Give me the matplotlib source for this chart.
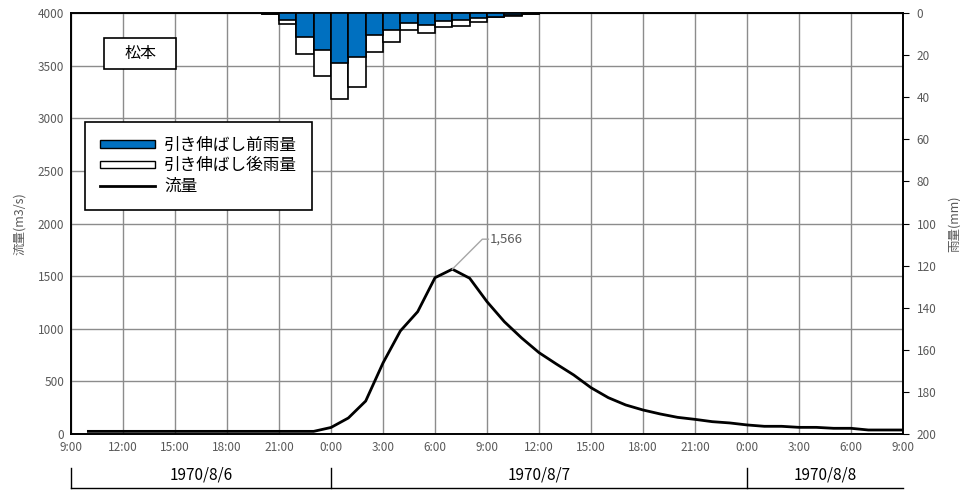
import matplotlib
matplotlib.use('Agg')
import matplotlib.pyplot as plt
from matplotlib.patches import Patch, Rectangle
from matplotlib.lines import Line2D

plt.rcParams['font.family'] = ['Noto Sans CJK JP', 'DejaVu Sans']

# hours counted from 1970/8/6 9:00
flow_hours = list(range(1, 49))
flow = [25, 25, 25, 25, 25, 25, 25, 25, 25, 25, 25, 25, 25, 25,
        62, 152, 313, 675, 979, 1162, 1485, 1566, 1480, 1257, 1067, 912, 773,
        665, 561, 440, 345, 276, 228, 190, 158, 139, 117, 105, 86,
        73, 73, 63, 63, 54, 54, 38, 38, 38]

rain_hours = list(range(11, 27))  # left edge of each hourly bar
rain_before = [0.5, 3.2, 11.3, 17.4, 23.9, 20.8, 10.6, 8.1, 4.8, 5.7, 3.7, 3.2, 2.4, 1.8, 1.0, 0.4]
rain_after = [0.7, 5.2, 19.5, 30.1, 41.0, 35.0, 18.7, 13.6, 8.1, 9.7, 6.5, 6.0, 4.3, 2.1, 1.2, 0.5]

tick_hours = list(range(0, 49, 3))
tick_labels = ['9:00', '12:00', '15:00', '18:00', '21:00', '0:00', '3:00', '6:00', '9:00',
               '12:00', '15:00', '18:00', '21:00', '0:00', '3:00', '6:00', '9:00']
dates = ['1970/8/6', '1970/8/7', '1970/8/8']
date_bounds = [0, 15, 39, 48]

peak = max(flow)
peak_hour = flow_hours[flow.index(peak)]

gray = '#595959'
blue = '#0070C0'

fig = plt.figure(figsize=(9.6, 4.93), dpi=100)
ax = fig.add_axes([0.074, 0.1197, 0.8666, 0.8539])

ax.plot(flow_hours, flow, color='black', lw=2, zorder=3)
ax.set_xlim(0, 48)
ax.set_ylim(0, 4000)
ax.set_yticks(range(0, 4001, 500))
ax.set_xticks(tick_hours)
ax.set_xticklabels(tick_labels)
ax.grid(True, color='#8c8c8c', lw=1)
ax.tick_params(axis='both', length=0, labelsize=8.5, labelcolor=gray, pad=5)
ax.set_ylabel('流量(m3/s)', color=gray, fontsize=9, labelpad=8)
for s in ax.spines.values():
    s.set_color('black')
    s.set_linewidth(1.2)

ax2 = ax.twinx()
ax2.bar(rain_hours, rain_after, width=1, align='edge', color='white', edgecolor='black', lw=1.2, zorder=2)
ax2.bar(rain_hours, rain_before, width=1, align='edge', color=blue, edgecolor='black', lw=1.2, zorder=3)
ax2.set_ylim(200, 0)
ax2.set_yticks(range(0, 201, 20))
ax2.tick_params(axis='y', length=4, color='black', labelsize=8.5, labelcolor=gray, pad=6)
ax2.set_ylabel('雨量(mm)', color=gray, fontsize=9, labelpad=8)
for s in ax2.spines.values():
    s.set_color('black')
    s.set_linewidth(1.2)

# peak label with bent leader
kx, ky = peak_hour + 1.73, peak + 285
ax.plot([peak_hour, kx, kx + 0.35], [peak, ky, ky], color='#a6a6a6', lw=1, zorder=4)
ax.text(kx + 0.45, ky, '{:,}'.format(peak), fontsize=9.5, color=gray, va='center', ha='left')

# station name box
ax2.add_patch(Rectangle((0.0397, 0.867), 0.0865, 0.0736, transform=ax.transAxes,
                        fc='white', ec='black', lw=1.2, zorder=5))
ax2.text(0.0397 + 0.0865 / 2, 0.867 + 0.0736 / 2, '松本', transform=ax.transAxes,
         ha='center', va='center', fontsize=11.5, zorder=6)

handles = [Patch(facecolor=blue, edgecolor='black'),
           Patch(facecolor='white', edgecolor='black'),
           Line2D([], [], color='black', lw=2)]
leg = ax2.legend(handles, ['引き伸ばし前雨量', '引き伸ばし後雨量', '流量'],
                 loc='upper left', bbox_to_anchor=(0.0168, 0.741), fontsize=12,
                 frameon=True, fancybox=False, edgecolor='black', framealpha=1,
                 handlelength=3.3, handleheight=0.3, labelspacing=0.2,
                 borderpad=0.9, borderaxespad=0, handletextpad=0.55)
leg.get_frame().set_linewidth(1.2)
leg.set_zorder(10)

# date bracket below axis
tr = ax.get_xaxis_transform()
ax.plot([0, 48], [-0.128, -0.128], color='black', lw=1, transform=tr, clip_on=False)
for b in date_bounds[:3]:
    ax.plot([b, b], [-0.081, -0.128], color='black', lw=1, transform=tr, clip_on=False)
for i, d in enumerate(dates):
    ax.text((date_bounds[i] + date_bounds[i + 1]) / 2, -0.097, d, transform=tr,
            ha='center', va='center', fontsize=11)

plt.savefig('out.png', dpi=100)
